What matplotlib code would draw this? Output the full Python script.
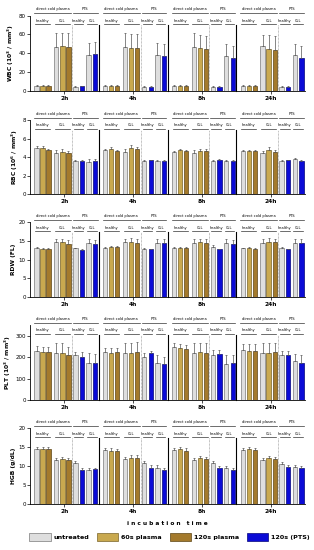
import matplotlib
matplotlib.use("Agg")
import matplotlib.pyplot as plt
import matplotlib.transforms as mtransforms
from matplotlib.patches import Patch
import numpy as np

plt.rcParams['font.family'] = ['DejaVu Sans']

times = ["2h", "4h", "8h", "24h"]
bar_labels = ["H-untreated", "H-60s", "H-120s", "CLL-untreated", "CLL-60s", "CLL-120s",
              "PTS-H-untreated", "PTS-H-PTS", "PTS-CLL-untreated", "PTS-CLL-PTS"]
bar_kind = ["u", "60", "120", "u", "60", "120", "u", "pts", "u", "pts"]

# values per time point (rows: 2h,4h,8h,24h), 10 bars each
wbc = [[5.0, 5.3, 5.3, 46.3, 48.0, 47.0, 4.0, 4.5, 38.0, 39.0],
       [5.0, 5.0, 5.0, 47.0, 46.0, 45.5, 4.0, 4.0, 38.0, 37.0],
       [5.5, 5.5, 5.0, 46.3, 46.0, 44.5, 4.0, 4.0, 37.0, 34.5],
       [5.0, 5.5, 5.5, 47.5, 44.5, 43.0, 4.0, 4.0, 38.0, 35.0]]
wbc_err = [[1.0, 1.0, 1.0, 15.0, 14.0, 15.0, 0.8, 0.8, 12.5, 12.5],
           [1.0, 1.0, 1.0, 15.0, 15.0, 15.0, 0.8, 0.8, 12.5, 13.0],
           [1.0, 1.0, 1.0, 15.0, 13.0, 13.5, 0.8, 0.8, 13.0, 13.5],
           [1.0, 1.0, 1.0, 12.0, 14.5, 15.0, 0.8, 0.8, 12.0, 13.0]]

rbc = [[4.95, 4.95, 4.77, 4.48, 4.60, 4.40, 3.62, 3.62, 3.50, 3.55],
       [4.77, 4.84, 4.70, 4.60, 5.00, 4.84, 3.62, 3.65, 3.60, 3.60],
       [4.59, 4.73, 4.63, 4.48, 4.63, 4.63, 3.62, 3.70, 3.58, 3.58],
       [4.63, 4.63, 4.63, 4.48, 4.77, 4.56, 3.62, 3.68, 3.76, 3.58]]
rbc_err = [[0.2, 0.2, 0.15, 0.25, 0.25, 0.3, 0.05, 0.05, 0.25, 0.25],
           [0.1, 0.2, 0.1, 0.3, 0.3, 0.3, 0.05, 0.05, 0.1, 0.1],
           [0.1, 0.15, 0.15, 0.25, 0.3, 0.3, 0.05, 0.05, 0.15, 0.15],
           [0.15, 0.15, 0.15, 0.2, 0.3, 0.25, 0.05, 0.05, 0.15, 0.15]]

rdw = [[13.2, 12.85, 12.8, 14.6, 14.6, 14.3, 13.0, 12.7, 14.5, 14.3],
       [13.1, 13.4, 13.4, 14.6, 14.8, 14.5, 12.95, 12.85, 14.4, 14.4],
       [13.2, 13.2, 13.2, 14.5, 14.6, 14.5, 13.4, 12.85, 14.5, 14.3],
       [13.0, 13.1, 12.9, 14.5, 14.7, 14.6, 13.1, 12.85, 14.5, 14.5]]
rdw_err = [[0.3, 0.2, 0.2, 1.0, 1.0, 0.9, 0.2, 0.1, 1.0, 1.0],
           [0.2, 0.3, 0.3, 0.9, 1.0, 1.0, 0.2, 0.1, 1.0, 1.0],
           [0.2, 0.2, 0.2, 1.0, 1.0, 1.0, 0.4, 0.1, 1.0, 1.0],
           [0.2, 0.2, 0.2, 1.0, 1.0, 1.0, 0.3, 0.1, 1.0, 1.0]]

plt_v = [[230, 225, 225, 218, 218, 208, 208, 201, 171, 174],
         [225, 220, 225, 218, 218, 225, 201, 218, 171, 168],
         [246, 241, 236, 221, 225, 218, 211, 214, 168, 171],
         [233, 230, 230, 221, 221, 225, 211, 208, 183, 171]]
plt_err = [[20, 22, 22, 47, 50, 41, 17, 22, 47, 40],
           [17, 22, 17, 47, 50, 47, 20, 10, 40, 32],
           [20, 22, 22, 46, 43, 50, 22, 20, 40, 40],
           [30, 30, 30, 46, 46, 42, 20, 22, 30, 40]]

hgb = [[14.4, 14.4, 14.4, 11.6, 11.9, 11.6, 10.7, 8.9, 8.9, 9.1],
       [14.3, 14.1, 13.9, 11.8, 12.2, 12.1, 10.7, 9.5, 9.5, 8.9],
       [14.3, 14.5, 14.1, 11.6, 12.0, 11.8, 10.7, 9.4, 9.4, 8.9],
       [14.3, 14.4, 14.3, 11.6, 12.0, 11.8, 10.5, 9.7, 9.7, 9.4]]
hgb_err = [[0.6, 0.6, 0.6, 0.6, 0.5, 0.6, 0.5, 0.5, 0.5, 0.5],
           [0.6, 0.6, 0.6, 0.5, 0.8, 0.8, 0.5, 0.8, 0.8, 0.7],
           [0.6, 0.6, 0.6, 0.6, 0.6, 0.6, 0.6, 0.6, 0.6, 0.6],
           [0.6, 0.6, 0.6, 0.6, 0.7, 0.7, 0.6, 0.6, 0.6, 0.6]]

ylabels = [r"WBC (10$^\mathbf{3}$ / mm$^\mathbf{3}$)", r"RBC (10$^\mathbf{6}$ / mm$^\mathbf{3}$)",
           "RDW (FL)", r"PLT (10$^\mathbf{3}$ / mm$^\mathbf{3}$)", "HGB (g/dL)"]
ylims = [80, 8, 20, 350, 20]
yticks = [[0, 20, 40, 60, 80], [0, 2, 4, 6, 8], [0, 5, 10, 15, 20], [0, 100, 200, 300], [0, 5, 10, 15, 20]]
legend_labels = ["untreated", "60s plasma", "120s plasma", "120s (PTS)"]

colors = {"u": "#dedede", "60": "#c9a94f", "120": "#a47a2c", "pts": "#0b0bd6"}
edges = {"u": "#7a7a7a", "60": "#7a6428", "120": "#5e4515", "pts": "#05057a"}

W = 11.27
offs = [1.07, 2.05, 3.03, 4.31, 5.30, 6.31, 7.43, 8.52, 9.62, 10.69]
bw = 0.72

fig = plt.figure(figsize=(3.14, 5.5), dpi=100)
left, width = 30 / 314, 275 / 314
tops = [15.7, 120.0, 222.3, 325.0, 428.3]
bots = [90.7, 194.3, 297.0, 400.0, 503.7]

datas = [(wbc, wbc_err), (rbc, rbc_err), (rdw, rdw_err), (plt_v, plt_err), (hgb, hgb_err)]

for p, (vals, errs) in enumerate(datas):
    ax = fig.add_axes([left, 1 - bots[p] / 550, width, (bots[p] - tops[p]) / 550])
    trans = mtransforms.blended_transform_factory(ax.transData, ax.transAxes)
    for g in range(4):
        base = g * W
        for b in range(10):
            k = bar_kind[b]
            x = base + offs[b]
            ax.bar(x, vals[g][b], width=bw, color=colors[k], edgecolor=edges[k], linewidth=0.5, zorder=2)
            ax.errorbar(x, vals[g][b], yerr=[[0], [errs[g][b]]], fmt='none', ecolor='#555555',
                        elinewidth=0.5, capsize=0.9, capthick=0.5, zorder=3)
        # separators
        if g > 0:
            ax.plot([base, base], [0, 0.87], transform=trans, color='black', lw=0.8, clip_on=False, zorder=1)
        xd = base + (offs[5] + offs[6]) / 2
        ax.plot([xd, xd], [0, 0.87], transform=trans, color='#888888', lw=0.5, ls=(0, (1, 1)),
                clip_on=False, zorder=1)
        # header lines
        hy, ty = 1.03, 1.085
        sy, sty = 0.885, 0.93
        for (a, b_, lab) in [(0, 5, "direct cold plasma"), (6, 9, "PTS")]:
            x0 = base + offs[a] - 0.4
            x1 = base + offs[b_] + 0.4
            ax.plot([x0, x1], [hy, hy], transform=trans, color='#333333', lw=0.5, clip_on=False)
            ax.text((x0 + x1) / 2, ty, lab, transform=trans, ha='center', va='center',
                    fontsize=2.6, clip_on=False)
        for (a, b_, lab) in [(0, 2, "healthy"), (3, 5, "CLL"), (6, 7, "healthy"), (8, 9, "CLL")]:
            x0 = base + offs[a] - 0.4
            x1 = base + offs[b_] + 0.4
            ax.plot([x0 + 0.15, x1 - 0.15], [sy, sy], transform=trans, color='#333333', lw=0.5, clip_on=False)
            ax.text((x0 + x1) / 2, sty, lab, transform=trans, ha='center', va='center',
                    fontsize=2.6, clip_on=False)
    ax.set_xlim(0, 4 * W)
    ax.set_ylim(0, ylims[p])
    ax.set_yticks(yticks[p])
    ax.set_xticks([g * W + W / 2 for g in range(4)])
    ax.set_xticklabels(times, fontweight='bold', fontsize=4.2)
    ax.tick_params(axis='x', length=2, width=0.5, pad=1.5)
    ax.tick_params(axis='y', length=2, width=0.5, pad=1, labelsize=4.0)
    for sp in ['top', 'right']:
        ax.spines[sp].set_visible(False)
    for sp in ['left', 'bottom']:
        ax.spines[sp].set_linewidth(0.6)
    ax.set_ylabel(ylabels[p], fontsize=4.3, fontweight='bold', labelpad=2)
    if p == 4:
        ax.set_xlabel("i n c u b a t i o n   t i m e", fontsize=4.2, fontweight='bold', labelpad=5)

handles = [Patch(facecolor=colors[k], edgecolor=edges[k], linewidth=0.5) for k in ["u", "60", "120", "pts"]]
fig.legend(handles, legend_labels, loc='center', bbox_to_anchor=(0.54, 1 - 537 / 550), ncol=4,
           frameon=False, prop={'size': 4.6, 'weight': 'bold'}, handlelength=3.3, handleheight=1.7,
           columnspacing=1.2, handletextpad=0.5)

fig.savefig("out.png", dpi=100)
